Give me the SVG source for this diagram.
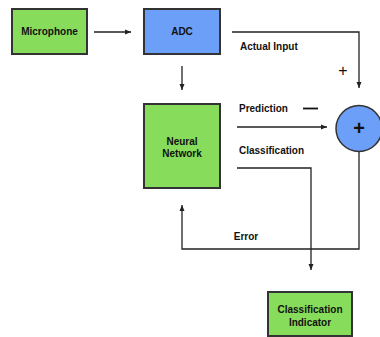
<svg xmlns="http://www.w3.org/2000/svg" width="380" height="337" viewBox="0 0 380 337">
<defs>
<marker id="ah" markerWidth="8" markerHeight="8" refX="7" refY="4" orient="auto" markerUnits="userSpaceOnUse">
<path d="M1,1.5 L7,4 L1,6.5 Z" fill="#222"/>
</marker>
<style>
.g{fill:#88dc5b;stroke:#333;stroke-width:2}
.b{fill:#6c9ff8;stroke:#333;stroke-width:2}
.t{font-family:"Liberation Sans",Arial,sans-serif;font-size:10px;font-weight:bold;fill:#111}
.c{text-anchor:middle}
.l{fill:none;stroke:#222;stroke-width:1.3}
</style>
</defs>
<rect width="380" height="337" fill="#fff"/>
<g id="microphone"><rect class="g" x="12" y="9" width="75" height="45"/><text class="t c" x="49.5" y="35">Microphone</text></g>
<g id="adc"><rect class="b" x="144" y="9" width="76" height="45"/><text class="t c" x="182" y="35">ADC</text></g>
<g id="neural"><rect class="g" x="144" y="104" width="76" height="84"/><text class="t c" x="182" y="145">Neural</text><text class="t c" x="182" y="157">Network</text></g>
<g id="sum"><circle cx="359" cy="128.5" r="23" fill="#6c9ff8" stroke="#333" stroke-width="1.5"/><text x="359" y="135" text-anchor="middle" font-family="Liberation Sans,Arial,sans-serif" font-size="20" font-weight="bold" fill="#111">+</text></g>
<g id="indicator"><rect class="g" x="268" y="292" width="84" height="44"/><text class="t c" x="310" y="313">Classification</text><text class="t c" x="310" y="326">Indicator</text></g>
<g id="connectors">
<path class="l" d="M94,32 H131" marker-end="url(#ah)"/>
<path class="l" d="M182,66 V90" marker-end="url(#ah)"/>
<path class="l" d="M232,32 H359 V88" marker-end="url(#ah)"/>
<path class="l" d="M237,127 H327" marker-end="url(#ah)"/>
<path class="l" d="M237,168 H311 V270" marker-end="url(#ah)"/>
<path class="l" d="M359,152 V249 H182 V205" marker-end="url(#ah)"/>
<text class="t" x="240" y="50">Actual Input</text>
<text x="343" y="76" text-anchor="middle" font-family="Liberation Sans,Arial,sans-serif" font-size="16" fill="#111">+</text>
<text class="t" x="239" y="112">Prediction</text>
<path d="M303,108.5 H318" stroke="#111" stroke-width="1.8"/>
<text class="t" x="239" y="154">Classification</text>
<text class="t c" x="246" y="240">Error</text>
</g>
</svg>
